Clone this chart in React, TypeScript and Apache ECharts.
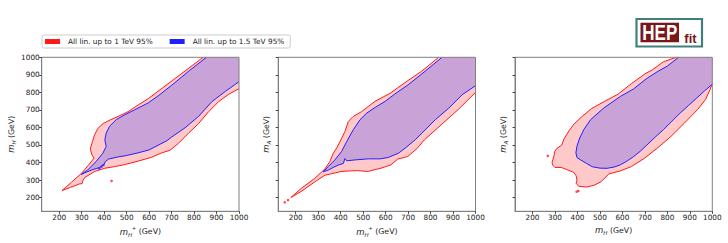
import React, { useEffect, useRef } from "react";
import * as echarts from "echarts";

// ---- data ----
const AXIS_MIN = 122;
const AXIS_MAX = 1000;
const TICKS = [200, 300, 400, 500, 600, 700, 800, 900, 1000];
const RED_NAME = "All lin. up to 1 TeV 95%";
const BLUE_NAME = "All lin. up to 1.5 TeV 95%";

// Panel 1: m_H+ (x) vs m_H (y)
const p1Red = [
  [840, 1000], [760, 922], [680, 845], [596, 764], [551, 728], [506, 690], [470, 668], [430, 645],
  [395, 622], [372, 595], [358, 560], [348, 520], [338, 478], [345, 445], [355, 425], [330, 385],
  [300, 340], [255, 288], [212, 240], [250, 258], [290, 278], [302, 280], [306, 300], [315, 316],
  [357, 349], [402, 367], [447, 377], [491, 388], [551, 408], [611, 430], [656, 455], [693, 470],
  [731, 510], [775, 567], [820, 622], [865, 690], [910, 748], [955, 790], [1000, 821],
];
const p1Blue = [
  [855, 1000], [780, 925], [700, 840], [640, 780], [596, 740], [536, 701], [491, 672], [454, 645],
  [424, 607], [409, 568], [403, 530], [409, 491], [394, 453], [364, 406], [327, 358], [298, 332],
  [320, 345], [350, 360], [380, 372], [400, 390], [405, 405], [420, 420], [462, 432], [500, 440],
  [550, 455], [600, 472], [650, 505], [680, 525], [700, 545], [760, 598], [820, 663], [880, 748],
  [940, 806], [1000, 861],
];
const p1RedDots = [[433, 295]];
const p1BlueDots = [[378, 366], [388, 376], [397, 386]];

// Panel 2: m_H+ (x) vs m_A (y)
const p2Red = [
  [836, 1000], [760, 920], [700, 868], [620, 795], [553, 749], [523, 720], [494, 691], [456, 663],
  [434, 634], [419, 577], [397, 520], [382, 482], [367, 453], [352, 406], [330, 364], [285, 310],
  [225, 253], [178, 200], [225, 236], [285, 290], [330, 328], [356, 335], [401, 349], [440, 352],
  [475, 354], [520, 349], [580, 368], [624, 387], [654, 420], [698, 434], [740, 480], [773, 530],
  [847, 615], [922, 701], [1000, 800],
];
const p2Blue = [
  [851, 1000], [780, 925], [700, 843], [640, 790], [598, 749], [553, 714], [516, 682], [486, 644],
  [456, 587], [427, 520], [404, 463], [374, 415], [345, 377], [322, 347], [345, 357], [367, 372],
  [389, 385], [412, 395], [419, 423], [427, 410], [464, 415], [523, 421], [576, 421], [612, 429],
  [657, 453], [687, 482], [732, 530], [762, 568], [821, 644], [881, 710], [941, 787], [1000, 838],
];
const p2RedDots = [[151, 173], [166, 186]];

// Panel 3: m_H (x) vs m_A (y)
const p3Red = [
  [840, 1000], [783, 975], [735, 930], [700, 905], [640, 850], [581, 790], [522, 750], [463, 708],
  [418, 660], [385, 620], [362, 580], [340, 535], [330, 500], [308, 480], [298, 462], [296, 440],
  [287, 400], [290, 385], [300, 372], [328, 372], [352, 360], [382, 345], [394, 325], [398, 300],
  [394, 282], [405, 265], [441, 260], [477, 272], [505, 291], [540, 335], [590, 352], [640, 377],
  [699, 425], [758, 485], [817, 550], [876, 625], [935, 703], [970, 760], [990, 815], [1000, 853],
];
const p3Blue = [
  [850, 1000], [800, 950], [758, 920], [709, 880], [650, 820], [591, 777], [517, 711], [458, 644],
  [429, 590], [410, 540], [398, 495], [393, 455], [398, 428], [414, 415], [440, 395], [466, 376],
  [500, 368], [532, 367], [565, 375], [591, 387], [620, 408], [650, 434], [680, 465], [709, 500],
  [746, 545], [783, 588], [820, 635], [857, 682], [894, 725], [931, 768], [965, 808], [1000, 846],
];
const p3RedDots = [[268, 438], [396, 234], [404, 238]];

const RED_LINE = "#ff1a1a";
const RED_FILL = "#ffc9c9";
const BLUE_LINE = "#2020ff";
const BLUE_FILL = "#c9a3d7";
const TEXT = "#1a1a1a";
const FONT = "DejaVu Sans";

function contourSeries(name: string, points: number[][], idx: number, fill: string, stroke: string, z: number) {
  return {
    type: "custom",
    name,
    xAxisIndex: idx,
    yAxisIndex: idx,
    coordinateSystem: "cartesian2d",
    data: points,
    z,
    silent: true,
    itemStyle: { color: stroke },
    encode: { x: 0, y: 1 },
    renderItem: (params: any, api: any) => {
      if (params.context.rendered) return;
      params.context.rendered = true;
      const pts: number[][] = [];
      for (let i = 0; i < points.length; i++) {
        pts.push(api.coord([api.value(0, i), api.value(1, i)]));
      }
      const corner = api.coord([AXIS_MAX, AXIS_MAX]);
      return {
        type: "group",
        children: [
          { type: "polygon", shape: { points: [...pts, corner] }, style: { fill, stroke: "none" } },
          { type: "polyline", shape: { points: pts }, style: { fill: "none", stroke, lineWidth: 1 } },
        ],
      };
    },
  };
}

function dotSeries(points: number[][], idx: number, color: string) {
  return {
    type: "scatter",
    xAxisIndex: idx,
    yAxisIndex: idx,
    data: points,
    symbolSize: 2.5,
    itemStyle: { color },
    z: 4,
    silent: true,
  };
}

const rich = {
  i: { fontStyle: "italic", fontSize: 8.5, fontFamily: FONT, color: TEXT, lineHeight: 12, verticalAlign: "middle" },
  sub: { fontStyle: "italic", fontSize: 5.5, fontFamily: FONT, color: TEXT, lineHeight: 12, verticalAlign: "bottom" },
  sup: { fontSize: 5, fontFamily: FONT, color: TEXT, lineHeight: 12, verticalAlign: "top" },
  n: { fontSize: 7.8, fontFamily: FONT, color: TEXT, lineHeight: 12, verticalAlign: "middle" },
};

const fmt = (v: number) => String(v);

function xAxis(idx: number, name: string) {
  return {
    type: "value",
    gridIndex: idx,
    min: AXIS_MIN,
    max: AXIS_MAX,
    name,
    nameLocation: "middle",
    nameGap: 11,
    nameTextStyle: { rich },
    axisLine: { show: true, lineStyle: { color: "#808080", width: 1 } },
    axisTick: { show: true, length: 2.5, customValues: TICKS, lineStyle: { color: "#444" } },
    axisLabel: { show: true, customValues: TICKS, formatter: fmt, fontSize: 7.3, fontFamily: FONT, color: TEXT, margin: 2.5 },
    splitLine: { show: false },
    z: 6,
  };
}

function yAxis(idx: number, name: string, labels: boolean) {
  return {
    type: "value",
    gridIndex: idx,
    min: AXIS_MIN,
    max: AXIS_MAX,
    name,
    nameLocation: "middle",
    nameRotate: 90,
    nameGap: labels ? 23 : 6,
    nameTextStyle: { rich },
    axisLine: { show: true, lineStyle: { color: "#808080", width: 1 } },
    axisTick: { show: true, length: 2.5, customValues: TICKS, lineStyle: { color: "#444" } },
    axisLabel: { show: labels, customValues: TICKS, formatter: fmt, fontSize: 7.3, fontFamily: FONT, color: TEXT, margin: 2 },
    splitLine: { show: false },
    z: 6,
  };
}

export default function App() {
  const ref = useRef<HTMLDivElement>(null);
  useEffect(() => {
    if (!ref.current) return;
    const chart = echarts.init(ref.current, undefined, { renderer: "svg" });
    const gridBase = { top: 57.3, height: 154, width: 197.3, show: true, borderColor: "#808080", borderWidth: 1, backgroundColor: "transparent", z: 5 };
    chart.setOption({
      animation: false,
      backgroundColor: "#ffffff",
      grid: [
        { ...gridBase, left: 41.7 },
        { ...gridBase, left: 278.2 },
        { ...gridBase, left: 515 },
      ],
      xAxis: [
        xAxis(0, "{i|m}{sub|H}{sup|+}{n| (GeV)}"),
        xAxis(1, "{i|m}{sub|H}{sup|+}{n| (GeV)}"),
        xAxis(2, "{i|m}{sub|H}{n| (GeV)}"),
      ],
      yAxis: [
        yAxis(0, "{i|m}{sub|H}{n| (GeV)}", true),
        yAxis(1, "{i|m}{sub|A}{n| (GeV)}", false),
        yAxis(2, "{i|m}{sub|A}{n| (GeV)}", false),
      ],
      legend: {
        left: 42,
        top: 35,
        data: [RED_NAME, BLUE_NAME],
        icon: "rect",
        itemWidth: 15,
        itemHeight: 5,
        itemGap: 17,
        padding: [2, 6, 2, 3],
        borderColor: "#cccccc",
        borderWidth: 1,
        borderRadius: 2,
        backgroundColor: "#ffffff",
        selectedMode: false,
        textStyle: { fontSize: 7.35, fontFamily: FONT, color: TEXT, padding: [0, 0, 0, 3], lineHeight: 9 },
      },
      graphic: [
        { type: "rect", shape: { x: 636.5, y: 19, width: 65.5, height: 27.5 }, style: { fill: "#ffffff", stroke: "#3f807c", lineWidth: 2.2 }, z: 100 },
        { type: "rect", shape: { x: 640.5, y: 22.7, width: 38.5, height: 19.5 }, style: { fill: "#7a1616" }, z: 101 },
        { type: "text", x: 659.8, y: 32.6, scaleY: 1.3, style: { text: "HEP", fill: "#ffffff", font: 'bold 17px "Liberation Sans"', align: "center", verticalAlign: "middle" }, z: 102 },
        { type: "text", x: 690.5, y: 38, style: { text: "fit", fill: "#7a1616", font: 'bold 13px "Liberation Sans"', align: "center", verticalAlign: "middle" }, z: 102 },
      ],
      series: [
        contourSeries(RED_NAME, p1Red, 0, RED_FILL, RED_LINE, 2),
        contourSeries(BLUE_NAME, p1Blue, 0, BLUE_FILL, BLUE_LINE, 3),
        dotSeries(p1RedDots, 0, RED_LINE),
        dotSeries(p1BlueDots, 0, BLUE_LINE),
        contourSeries(RED_NAME, p2Red, 1, RED_FILL, RED_LINE, 2),
        contourSeries(BLUE_NAME, p2Blue, 1, BLUE_FILL, BLUE_LINE, 3),
        dotSeries(p2RedDots, 1, RED_LINE),
        contourSeries(RED_NAME, p3Red, 2, RED_FILL, RED_LINE, 2),
        contourSeries(BLUE_NAME, p3Blue, 2, BLUE_FILL, BLUE_LINE, 3),
        dotSeries(p3RedDots, 2, RED_LINE),
      ],
    });
    return () => chart.dispose();
  }, []);
  return <div ref={ref} style={{ position: "absolute", left: 0, top: 0, width: 728, height: 243 }} />;
}
